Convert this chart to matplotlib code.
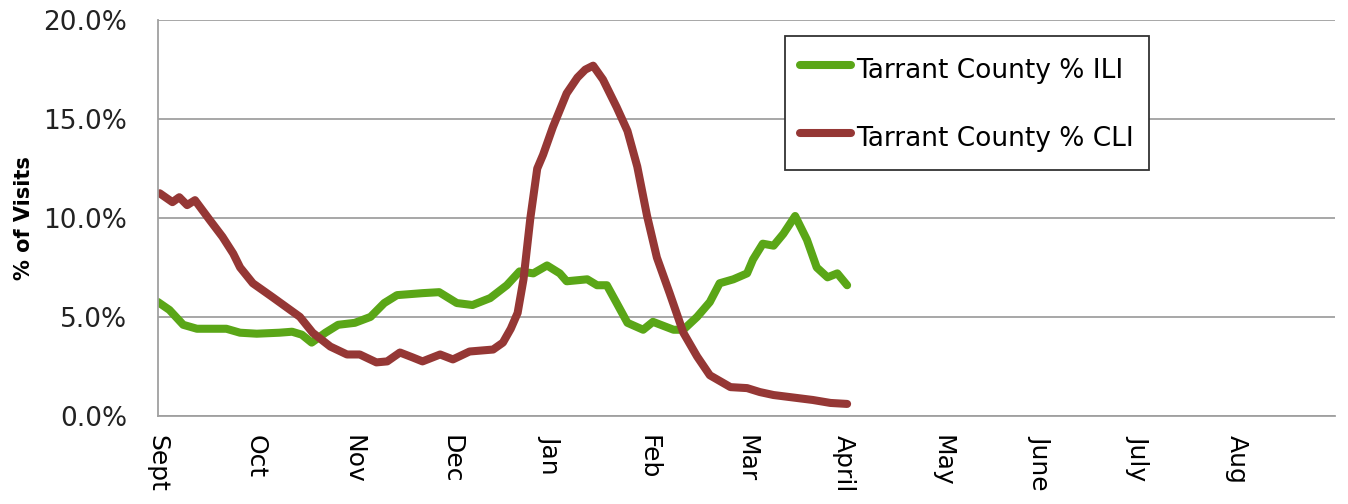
import matplotlib.pyplot as plt

# months since Sept 1 (equal spacing per month, like the original category axis)
month_labels = ['Sept', 'Oct', 'Nov', 'Dec', 'Jan', 'Feb', 'Mar', 'April',
                'May', 'June', 'July', 'Aug']

ili_x = [0.00, 0.12, 0.26, 0.40, 0.70, 0.84, 1.01, 1.24, 1.37, 1.47, 1.57, 1.71,
         1.84, 2.01, 2.17, 2.31, 2.44, 2.70, 2.87, 3.05, 3.21, 3.39, 3.56, 3.69,
         3.83, 3.97, 4.10, 4.17, 4.38, 4.48, 4.58, 4.68, 4.79, 4.95, 5.05, 5.26,
         5.36, 5.50, 5.63, 5.73, 5.87, 6.01, 6.07, 6.17, 6.28, 6.38, 6.50, 6.62,
         6.72, 6.83, 6.93, 7.03]
ili_y = [5.76, 5.35, 4.6, 4.4, 4.4, 4.2, 4.15, 4.2, 4.25, 4.1, 3.7, 4.2,
         4.6, 4.7, 5.0, 5.7, 6.1, 6.2, 6.25, 5.7, 5.6, 5.95, 6.6, 7.3,
         7.2, 7.6, 7.2, 6.8, 6.9, 6.6, 6.6, 5.7, 4.7, 4.35, 4.75, 4.35,
         4.35, 5.0, 5.75, 6.7, 6.9, 7.2, 7.9, 8.7, 8.6, 9.2, 10.1, 8.9,
         7.5, 7.0, 7.2, 6.6]

cli_x = [0.02, 0.15, 0.22, 0.30, 0.38, 0.53, 0.66, 0.77, 0.84, 0.97, 1.17, 1.31,
         1.45, 1.58, 1.76, 1.93, 2.06, 2.23, 2.34, 2.47, 2.60, 2.70, 2.88, 3.01,
         3.18, 3.42, 3.52, 3.60, 3.67, 3.73, 3.80, 3.87, 3.93, 4.03, 4.17, 4.28,
         4.36, 4.44, 4.54, 4.68, 4.79, 4.89, 4.99, 5.09, 5.22, 5.36, 5.50, 5.63,
         5.84, 6.01, 6.14, 6.28, 6.52, 6.68, 6.86, 7.03]
cli_y = [11.25, 10.8, 11.05, 10.65, 10.9, 9.9, 9.05, 8.2, 7.5, 6.7, 6.0, 5.5,
         5.0, 4.2, 3.5, 3.1, 3.1, 2.7, 2.75, 3.2, 2.95, 2.75, 3.1, 2.85,
         3.25, 3.35, 3.7, 4.4, 5.2, 6.9, 10.0, 12.5, 13.2, 14.6, 16.3, 17.1,
         17.5, 17.7, 17.0, 15.6, 14.4, 12.6, 10.1, 8.0, 6.2, 4.2, 3.0, 2.05,
         1.45, 1.4, 1.2, 1.05, 0.9, 0.8, 0.65, 0.6]

green = '#5aa617'
red = '#953735'
grid_col = '#a0a0a0'

fig = plt.figure(figsize=(13.48, 5.04), dpi=100)
ax = fig.add_axes([0.117, 0.175, 0.873, 0.785])

ax.plot(ili_x, ili_y, color=green, lw=5.8, solid_capstyle='round',
        solid_joinstyle='round', label='Tarrant County % ILI')
ax.plot(cli_x, cli_y, color=red, lw=5.8, solid_capstyle='round',
        solid_joinstyle='round', label='Tarrant County % CLI')

ax.set_xlim(0, 12)
ax.set_ylim(0, 20)
ax.set_yticks([0, 5, 10, 15, 20])
ax.set_yticklabels(['%.1f%%' % v for v in [0, 5, 10, 15, 20]], fontsize=19,
                   color='#222222')
ax.set_xticks(range(12))
ax.set_xticklabels(month_labels, rotation=-90, fontsize=18, va='top', ha='center')
ax.tick_params(axis='y', length=0, pad=22)
ax.tick_params(axis='x', length=0, pad=14)

ax.yaxis.grid(True, color=grid_col, lw=1.3)
ax.set_axisbelow(True)
for s in ['top', 'right']:
    ax.spines[s].set_visible(False)
for s in ['left', 'bottom']:
    ax.spines[s].set_color(grid_col)
    ax.spines[s].set_linewidth(1.3)

ax.set_ylabel('% of Visits', fontsize=15, fontweight='bold')
ax.yaxis.set_label_coords(-0.105, 0.5)

leg = ax.legend(loc='upper left', bbox_to_anchor=(0.5327, 0.9596), fontsize=19,
                handlelength=1.9, handletextpad=0.2, labelspacing=1.3,
                handleheight=1.6, borderpad=0.6, borderaxespad=0,
                fancybox=False, framealpha=1)
leg.get_frame().set_edgecolor('#333333')
leg.get_frame().set_linewidth(1.3)

fig.savefig('out.png', dpi=100)
